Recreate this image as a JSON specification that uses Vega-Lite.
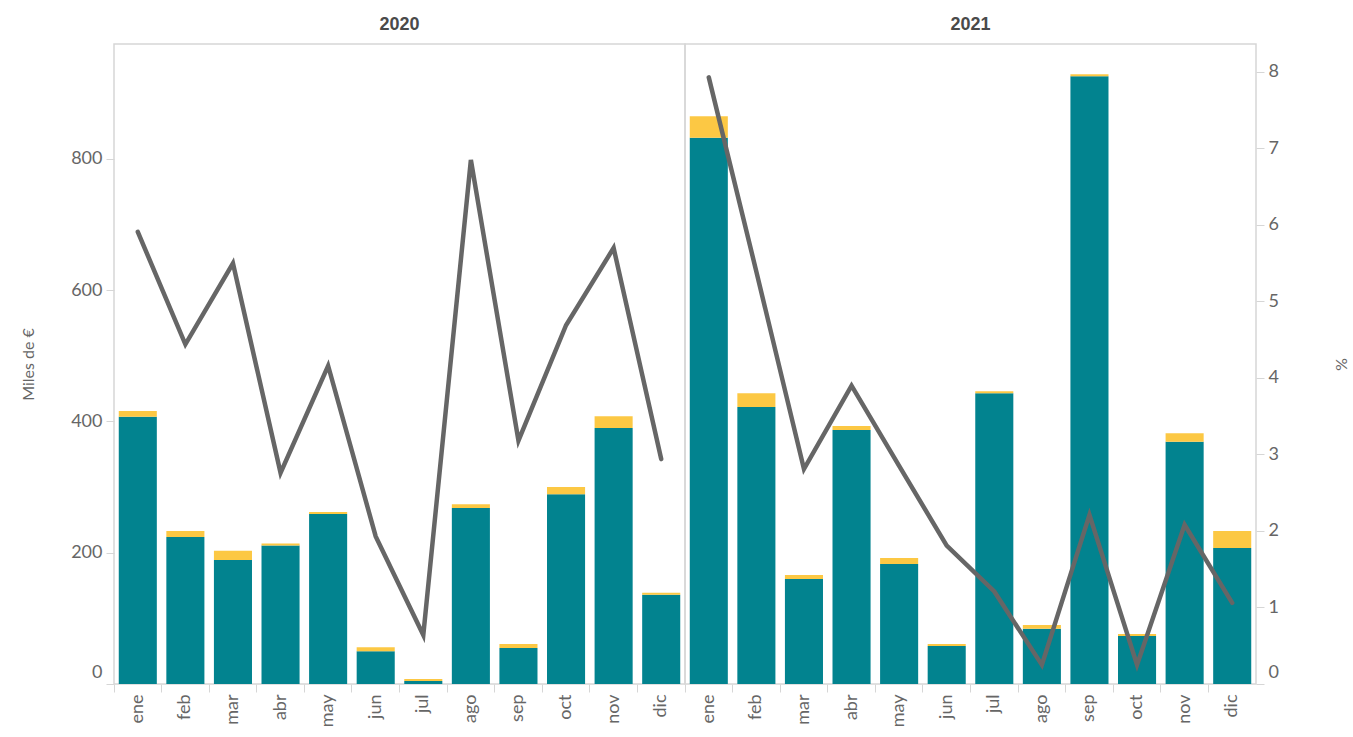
{
  "$schema": "https://vega.github.io/schema/vega-lite/v6.json",
  "padding": {"left": 19, "top": 15, "right": 4, "bottom": 0},
  "spacing": 0,
  "bounds": "flush",
  "background": "white",
  "config": {
    "view": {"stroke": "#d6d6d6", "strokeWidth": 1.5},
    "font": "Lato",
    "axis": {"grid": false, "domain": false, "tickColor": "#d6d6d6", "labelColor": "#666666", "titleColor": "#666666", "titleFontWeight": "normal"},
    "title": {"font": "Liberation Sans", "fontSize": 18, "fontWeight": "bold", "color": "#4a4a4a", "offset": 10}
  },
  "datasets": {
    "barras": [
      {"anio": "2020", "mes": "ene", "serie": "A", "valor": 407}, {"anio": "2020", "mes": "ene", "serie": "B", "valor": 9},
      {"anio": "2020", "mes": "feb", "serie": "A", "valor": 224}, {"anio": "2020", "mes": "feb", "serie": "B", "valor": 9},
      {"anio": "2020", "mes": "mar", "serie": "A", "valor": 189}, {"anio": "2020", "mes": "mar", "serie": "B", "valor": 14},
      {"anio": "2020", "mes": "abr", "serie": "A", "valor": 211}, {"anio": "2020", "mes": "abr", "serie": "B", "valor": 3},
      {"anio": "2020", "mes": "may", "serie": "A", "valor": 259}, {"anio": "2020", "mes": "may", "serie": "B", "valor": 3},
      {"anio": "2020", "mes": "jun", "serie": "A", "valor": 50}, {"anio": "2020", "mes": "jun", "serie": "B", "valor": 6},
      {"anio": "2020", "mes": "jul", "serie": "A", "valor": 4.5}, {"anio": "2020", "mes": "jul", "serie": "B", "valor": 3},
      {"anio": "2020", "mes": "ago", "serie": "A", "valor": 268}, {"anio": "2020", "mes": "ago", "serie": "B", "valor": 6},
      {"anio": "2020", "mes": "sep", "serie": "A", "valor": 55}, {"anio": "2020", "mes": "sep", "serie": "B", "valor": 6},
      {"anio": "2020", "mes": "oct", "serie": "A", "valor": 289}, {"anio": "2020", "mes": "oct", "serie": "B", "valor": 11},
      {"anio": "2020", "mes": "nov", "serie": "A", "valor": 390}, {"anio": "2020", "mes": "nov", "serie": "B", "valor": 18},
      {"anio": "2020", "mes": "dic", "serie": "A", "valor": 136}, {"anio": "2020", "mes": "dic", "serie": "B", "valor": 3},
      {"anio": "2021", "mes": "ene", "serie": "A", "valor": 832}, {"anio": "2021", "mes": "ene", "serie": "B", "valor": 33},
      {"anio": "2021", "mes": "feb", "serie": "A", "valor": 422}, {"anio": "2021", "mes": "feb", "serie": "B", "valor": 21},
      {"anio": "2021", "mes": "mar", "serie": "A", "valor": 160}, {"anio": "2021", "mes": "mar", "serie": "B", "valor": 6},
      {"anio": "2021", "mes": "abr", "serie": "A", "valor": 387}, {"anio": "2021", "mes": "abr", "serie": "B", "valor": 6},
      {"anio": "2021", "mes": "may", "serie": "A", "valor": 183}, {"anio": "2021", "mes": "may", "serie": "B", "valor": 9},
      {"anio": "2021", "mes": "jun", "serie": "A", "valor": 58}, {"anio": "2021", "mes": "jun", "serie": "B", "valor": 3},
      {"anio": "2021", "mes": "jul", "serie": "A", "valor": 443}, {"anio": "2021", "mes": "jul", "serie": "B", "valor": 3},
      {"anio": "2021", "mes": "ago", "serie": "A", "valor": 84}, {"anio": "2021", "mes": "ago", "serie": "B", "valor": 6},
      {"anio": "2021", "mes": "sep", "serie": "A", "valor": 926}, {"anio": "2021", "mes": "sep", "serie": "B", "valor": 3},
      {"anio": "2021", "mes": "oct", "serie": "A", "valor": 73}, {"anio": "2021", "mes": "oct", "serie": "B", "valor": 3},
      {"anio": "2021", "mes": "nov", "serie": "A", "valor": 369}, {"anio": "2021", "mes": "nov", "serie": "B", "valor": 13},
      {"anio": "2021", "mes": "dic", "serie": "A", "valor": 207}, {"anio": "2021", "mes": "dic", "serie": "B", "valor": 26}
    ],
    "pct": [
      {"anio": "2020", "mes": "ene", "pct": 5.91}, {"anio": "2020", "mes": "feb", "pct": 4.44},
      {"anio": "2020", "mes": "mar", "pct": 5.50}, {"anio": "2020", "mes": "abr", "pct": 2.76},
      {"anio": "2020", "mes": "may", "pct": 4.16}, {"anio": "2020", "mes": "jun", "pct": 1.93},
      {"anio": "2020", "mes": "jul", "pct": 0.64}, {"anio": "2020", "mes": "ago", "pct": 6.85},
      {"anio": "2020", "mes": "sep", "pct": 3.18}, {"anio": "2020", "mes": "oct", "pct": 4.69},
      {"anio": "2020", "mes": "nov", "pct": 5.70}, {"anio": "2020", "mes": "dic", "pct": 2.94},
      {"anio": "2021", "mes": "ene", "pct": 7.93}, {"anio": "2021", "mes": "feb", "pct": 5.39},
      {"anio": "2021", "mes": "mar", "pct": 2.81}, {"anio": "2021", "mes": "abr", "pct": 3.90},
      {"anio": "2021", "mes": "may", "pct": 2.85}, {"anio": "2021", "mes": "jun", "pct": 1.81},
      {"anio": "2021", "mes": "jul", "pct": 1.21}, {"anio": "2021", "mes": "ago", "pct": 0.25},
      {"anio": "2021", "mes": "sep", "pct": 2.21}, {"anio": "2021", "mes": "oct", "pct": 0.25},
      {"anio": "2021", "mes": "nov", "pct": 2.08}, {"anio": "2021", "mes": "dic", "pct": 1.06}
    ]
  },
  "hconcat": [
    {
      "title": "2020",
      "width": 571,
      "height": 640,
      "layer": [
        {
          "data": {"name": "barras"},
          "transform": [{"filter": "datum.anio == '2020'"}],
          "mark": {"type": "bar", "width": {"band": 0.8}},
          "encoding": {
            "x": {"field": "mes", "type": "ordinal", "sort": ["ene","feb","mar","abr","may","jun","jul","ago","sep","oct","nov","dic"], "title": null,
                  "scale": {"paddingInner": 0, "paddingOuter": 0},
                  "axis": {"labelAngle": -90, "labelFontSize": 18, "tickSize": 8, "labelPadding": 2, "bandPosition": 0}},
            "y": {"field": "valor", "type": "quantitative", "stack": "zero", "title": "Miles de €",
                  "scale": {"domain": [0, 975], "nice": false, "zero": true},
                  "axis": {"values": [0, 200, 400, 600, 800], "labelFontSize": 18, "titleFontSize": 16, "tickSize": 8, "labelPadding": 4, "titlePadding": 8, "minExtent": 70, "maxExtent": 70,
                           "labelOffset": {"condition": {"test": "datum.value === 0", "value": -12}, "value": 0}}},
            "color": {"field": "serie", "type": "nominal", "scale": {"domain": ["A", "B"], "range": ["#02838F", "#FCC844"]}, "legend": null},
            "order": {"field": "serie", "sort": "ascending"}
          }
        },
        {
          "data": {"name": "pct"},
          "transform": [{"filter": "datum.anio == '2020'"}],
          "mark": {"type": "line", "color": "#666666", "strokeWidth": 4.5, "strokeCap": "round"},
          "encoding": {
            "x": {"field": "mes", "type": "ordinal", "sort": ["ene","feb","mar","abr","may","jun","jul","ago","sep","oct","nov","dic"], "title": null},
            "y": {"field": "pct", "type": "quantitative", "scale": {"domain": [0, 8.366], "nice": false}, "axis": null}
          }
        }
      ],
      "resolve": {"scale": {"y": "independent"}}
    },
    {
      "title": "2021",
      "width": 571,
      "height": 640,
      "layer": [
        {
          "data": {"name": "barras"},
          "transform": [{"filter": "datum.anio == '2021'"}],
          "mark": {"type": "bar", "width": {"band": 0.8}},
          "encoding": {
            "x": {"field": "mes", "type": "ordinal", "sort": ["ene","feb","mar","abr","may","jun","jul","ago","sep","oct","nov","dic"], "title": null,
                  "scale": {"paddingInner": 0, "paddingOuter": 0},
                  "axis": {"labelAngle": -90, "labelFontSize": 18, "tickSize": 8, "labelPadding": 2, "bandPosition": 0}},
            "y": {"field": "valor", "type": "quantitative", "stack": "zero",
                  "scale": {"domain": [0, 975], "nice": false, "zero": true}, "axis": null},
            "color": {"field": "serie", "type": "nominal", "scale": {"domain": ["A", "B"], "range": ["#02838F", "#FCC844"]}, "legend": null},
            "order": {"field": "serie", "sort": "ascending"}
          }
        },
        {
          "data": {"name": "pct"},
          "transform": [{"filter": "datum.anio == '2021'"}],
          "mark": {"type": "line", "color": "#666666", "strokeWidth": 4.5, "strokeCap": "round"},
          "encoding": {
            "x": {"field": "mes", "type": "ordinal", "sort": ["ene","feb","mar","abr","may","jun","jul","ago","sep","oct","nov","dic"], "title": null},
            "y": {"field": "pct", "type": "quantitative", "title": "%",
                  "scale": {"domain": [0, 8.366], "nice": false},
                  "axis": {"orient": "right", "values": [0, 1, 2, 3, 4, 5, 6, 7, 8], "labelFontSize": 18, "titleFontSize": 16, "tickSize": 8, "labelPadding": 4, "titlePadding": 46, "minExtent": 30, "maxExtent": 30,
                           "labelOffset": {"condition": {"test": "datum.value === 0", "value": -12}, "value": 0}}}
          }
        }
      ],
      "resolve": {"scale": {"y": "independent"}}
    }
  ]
}
